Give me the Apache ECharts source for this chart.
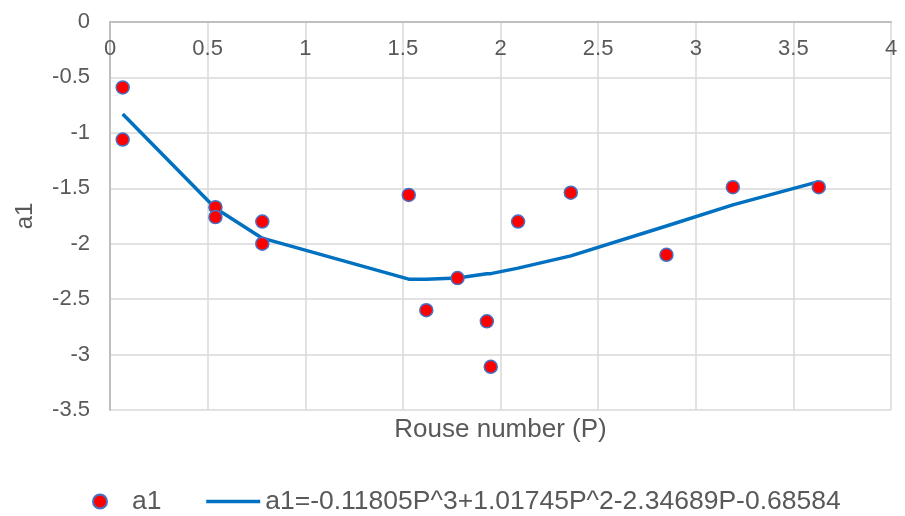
<!DOCTYPE html>
<html>
<head>
<meta charset="utf-8">
<script src="https://cdn.jsdelivr.net/npm/echarts@6/dist/echarts.min.js"></script>
<style>
  html, body { margin: 0; padding: 0; background: #fff; }
  #chart { width: 905px; height: 516px; }
</style>
</head>
<body>
<div id="chart"></div>
<script>
// measured points (Rouse number P, a1)
const pointX = [0.065, 0.065, 0.54, 0.54, 0.78, 0.78, 1.53, 1.62, 1.78, 1.93, 1.95, 2.09, 2.36, 2.85, 3.19, 3.63]
const pointY = [-0.59, -1.06, -1.67, -1.76, -1.80, -2.00, -1.56, -2.60, -2.31, -2.70, -3.11, -1.80, -1.54, -2.10, -1.49, -1.49]

// fitted curve
const fitX = [0.065, 0.54, 0.78, 1.53, 1.62, 1.78, 1.93, 1.95, 2.09, 2.36, 2.85, 3.19, 3.63]
const fitY = [-0.83, -1.68, -1.95, -2.32, -2.32, -2.31, -2.27, -2.27, -2.22, -2.11, -1.84, -1.65, -1.44]

const pointName = 'a1'
const fitName = 'a1=-0.11805P^3+1.01745P^2-2.34689P-0.68584'

const textColor = '#595959'
const font = 'Arial, "Liberation Sans", sans-serif'

const chart = echarts.init(document.getElementById('chart'))

const option = {
  animation: false,
  textStyle: { fontFamily: font, color: textColor },
  grid: { left: 110, right: 14, top: 22, bottom: 106, containLabel: false },
  legend: {
    left: 87,
    top: 483,
    itemWidth: 54,
    itemHeight: 14,
    itemGap: 43,
    textStyle: { fontSize: 26.5, color: textColor, fontFamily: font },
    data: [
      { name: pointName },
      { name: fitName, itemStyle: { opacity: 0 }, lineStyle: { width: 3.5 } }
    ]
  },
  xAxis: [
    {
      // values axis drawn along y = 0, which is the top edge here
      type: 'value',
      position: 'top',
      min: 0,
      max: 4,
      interval: 0.5,
      axisLine: { show: true, lineStyle: { color: '#bfbfbf', width: 2 } },
      axisTick: { show: false },
      axisLabel: { inside: true, fontSize: 22, color: textColor, margin: 16 },
      splitLine: { show: true, lineStyle: { color: '#d9d9d9', width: 1.5 } }
    },
    {
      // only carries the axis title under the plot
      type: 'value',
      position: 'bottom',
      min: 0,
      max: 4,
      name: 'Rouse number (P)',
      nameLocation: 'middle',
      nameGap: 7,
      nameTextStyle: { fontSize: 26, color: textColor, verticalAlign: 'top' },
      axisLine: { show: false },
      axisTick: { show: false },
      axisLabel: { show: false },
      splitLine: { show: false }
    }
  ],
  yAxis: {
    type: 'value',
    min: -3.5,
    max: 0,
    interval: 0.5,
    name: 'a1',
    nameLocation: 'middle',
    nameGap: 73,
    nameTextStyle: { fontSize: 24, color: textColor },
    axisLine: { show: true, lineStyle: { color: '#bfbfbf', width: 2 } },
    axisTick: { show: false },
    axisLabel: { fontSize: 22, color: textColor, margin: 20 },
    splitLine: { show: true, lineStyle: { color: '#d9d9d9', width: 1.5 } }
  },
  series: [
    {
      name: pointName,
      type: 'scatter',
      xAxisIndex: 0,
      symbol: 'circle',
      symbolSize: 13,
      itemStyle: { color: '#ff0000', borderColor: '#4472c4', borderWidth: 1.5, opacity: 1 },
      data: pointX.map((x, i) => [x, pointY[i]]),
      z: 3
    },
    {
      name: fitName,
      type: 'line',
      xAxisIndex: 0,
      symbol: 'none',
      lineStyle: { color: '#0070c0', width: 3.5 },
      itemStyle: { color: '#0070c0' },
      data: fitX.map((x, i) => [x, fitY[i]]),
      z: 2
    }
  ]
}

chart.setOption(option)
</script>
</body>
</html>
